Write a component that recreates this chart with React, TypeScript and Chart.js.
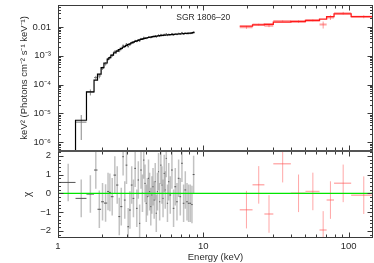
import React, { useEffect, useRef } from "react";
import { Chart, registerables } from "chart.js";

Chart.register(...registerables);

// ---------- axes ----------
const X_MIN = 1;
const X_MAX = 147;
const TOP_MIN = 5.1e-7;
const TOP_MAX = 0.0576;
const CHI_MIN = -2.38;
const CHI_MAX = 2.27;

const xTickValues = [1, 10, 100];
const xTickLabels = ["1", "10", "100"];
const topTickValues = [1e-6, 1e-5, 1e-4, 1e-3, 0.01];
const topTickLabels = ["10⁻⁶", "10⁻⁵", "10⁻⁴", "10⁻³", "0.01"];
const chiTickValues = [-2, -1, 0, 1, 2];
const chiTickLabels = ["−2", "−1", "0", "1", "2"];

const plotTitle = "SGR 1806–20";
const yTopTitle = "keV² (Photons cm⁻² s⁻¹ keV⁻¹)";
const yBotTitle = "χ";
const xTitle = "Energy (keV)";

// ---------- black spectrum (low energy) ----------
const blackEdges = [1.03, 1.32, 1.57, 1.77, 1.87, 1.98, 2.07, 2.18, 2.24, 2.31, 2.41, 2.51, 2.60, 2.68, 2.77, 2.84, 2.92, 3.00, 3.08, 3.17, 3.26, 3.35, 3.44, 3.53, 3.61, 3.68, 3.77, 3.85, 3.93, 4.01, 4.09, 4.16, 4.23, 4.31, 4.39, 4.46, 4.55, 4.63, 4.70, 4.79, 4.88, 4.96, 5.05, 5.15, 5.23, 5.33, 5.43, 5.51, 5.61, 5.72, 5.84, 6.00, 6.16, 6.32, 6.50, 6.67, 6.85, 7.03, 7.22, 7.41, 7.62, 7.82, 8.02, 8.25, 8.45, 8.70];
const blackModel = [1e-7, 5.8e-6, 5.6e-5, 1.43e-4, 2.3e-4, 3.9e-4, 5.6e-4, 7.6e-4, 8.6e-4, 1.05e-3, 1.25e-3, 1.45e-3, 1.62e-3, 1.8e-3, 1.98e-3, 2.12e-3, 2.3e-3, 2.45e-3, 2.6e-3, 2.78e-3, 2.95e-3, 3.12e-3, 3.28e-3, 3.42e-3, 3.55e-3, 3.68e-3, 3.8e-3, 3.92e-3, 4.03e-3, 4.13e-3, 4.22e-3, 4.3e-3, 4.38e-3, 4.46e-3, 4.53e-3, 4.6e-3, 4.67e-3, 4.73e-3, 4.79e-3, 4.85e-3, 4.91e-3, 4.96e-3, 5.01e-3, 5.06e-3, 5.11e-3, 5.16e-3, 5.2e-3, 5.24e-3, 5.28e-3, 5.33e-3, 5.39e-3, 5.45e-3, 5.51e-3, 5.57e-3, 5.63e-3, 5.69e-3, 5.75e-3, 5.81e-3, 5.87e-3, 5.93e-3, 6.0e-3, 6.07e-3, 6.14e-3, 6.22e-3, 6.32e-3];
const blackData = [1.5e-7, 5.0e-6, 5.5e-5, 1.75e-4, 2.0e-4, 3.69e-4, 5.25e-4, 7.69e-4, 8.65e-4, 1.03e-3, 1.40e-3, 1.50e-3, 1.46e-3, 1.70e-3, 2.29e-3, 2.06e-3, 2.58e-3, 2.10e-3, 2.42e-3, 2.88e-3, 2.89e-3, 3.37e-3, 3.12e-3, 3.57e-3, 3.21e-3, 3.95e-3, 3.80e-3, 4.34e-3, 4.16e-3, 4.00e-3, 4.17e-3, 4.51e-3, 4.40e-3, 4.27e-3, 4.51e-3, 4.70e-3, 4.57e-3, 4.91e-3, 4.48e-3, 4.87e-3, 5.25e-3, 4.83e-3, 5.46e-3, 5.19e-3, 5.03e-3, 5.49e-3, 5.26e-3, 5.83e-3, 5.11e-3, 5.53e-3, 5.36e-3, 5.85e-3, 5.25e-3, 5.69e-3, 5.48e-3, 5.96e-3, 5.69e-3, 6.37e-3, 5.68e-3, 6.00e-3, 5.84e-3, 5.88e-3, 5.94e-3, 6.00e-3, 6.70e-3];
const blackErr = [1e-7, 3.8e-6, 1.3e-5, 2.6e-5, 3.5e-5, 4.7e-5, 6.7e-5, 9.1e-5, 1.0e-4, 1.26e-4, 1.5e-4, 1.16e-4, 1.3e-4, 1.44e-4, 1.6e-4, 1.7e-4, 1.84e-4, 1.96e-4, 2.1e-4, 2.2e-4, 2.4e-4, 1.9e-4, 2.0e-4, 2.05e-4, 2.1e-4, 2.2e-4, 2.3e-4, 2.35e-4, 2.4e-4, 2.5e-4, 2.5e-4, 2.6e-4, 2.6e-4, 2.7e-4, 2.7e-4, 2.8e-4, 2.8e-4, 2.8e-4, 2.9e-4, 2.9e-4, 2.9e-4, 3.0e-4, 3.0e-4, 3.0e-4, 3.1e-4, 3.1e-4, 3.1e-4, 3.1e-4, 3.2e-4, 3.2e-4, 3.2e-4, 3.3e-4, 3.3e-4, 3.3e-4, 3.4e-4, 3.4e-4, 3.5e-4, 3.5e-4, 3.5e-4, 3.6e-4, 3.6e-4, 3.6e-4, 3.7e-4, 3.7e-4, 3.8e-4];
const blackChi = [0.58, -0.27, -0.04, 1.24, -0.85, -0.45, -0.52, 0.10, 0.05, -0.18, 0.97, 0.44, -1.24, -0.71, 1.95, -0.36, 1.50, -1.78, -0.89, 0.44, -0.27, 1.33, -0.80, 0.71, -1.60, 1.24, 0.00, 1.77, 0.53, -0.53, -0.18, 0.80, 0.09, -0.71, -0.09, 0.35, -0.36, 0.62, -1.06, 0.09, 1.15, -0.45, 1.50, 0.44, -0.27, 1.06, 0.18, 1.86, -0.53, 0.62, -0.09, 1.24, -0.80, 0.35, -0.45, 0.80, -0.18, 1.60, -0.53, 0.18, -0.45, -0.53, -0.53, -0.60, 1.00];

// ---------- red spectrum (high energy) ----------
const redEdges = [17.8, 21.8, 26.3, 30.3, 40.0, 50.4, 63.0, 70.5, 79.3, 104, 150];
const redModel = [0.0106, 0.0117, 0.0124, 0.0146, 0.0154, 0.0167, 0.0185, 0.0229, 0.0282, 0.0229];
const redData = [0.0097, 0.0121, 0.0110, 0.0160, 0.0154, 0.0169, 0.0121, 0.0214, 0.0300, 0.0226];
const redErr = [0.0011, 0.0009, 0.0012, 0.0009, 0.0015, 0.0013, 0.0033, 0.0040, 0.0032, 0.0027];
const redChi = [-0.87, 0.45, -1.10, 1.58, 0.00, 0.10, -1.95, -0.36, 0.53, -0.10];

const CHI_ERR = 1; // delchi error bars are +-1 sigma

const FONT = "'Liberation Sans', Arial, sans-serif";
const TEXT = "#2a2a2a";

function stepPoints(edges: number[], vals: number[]) {
  const pts = vals.map((v, i) => ({ x: edges[i], y: v }));
  pts.push({ x: edges[edges.length - 1], y: vals[vals.length - 1] });
  return pts;
}

function drawCrosses(
  ctx: CanvasRenderingContext2D, xs: any, ys: any, edges: number[], vals: number[],
  errs: number[] | number, hColor: string, vColor: string, hW: number, vW: number
) {
  ctx.save();
  ctx.beginPath();
  ctx.rect(xs.left, ys.top, xs.right - xs.left, ys.bottom - ys.top);
  ctx.clip();
  const isLog = ys.type === "logarithmic";
  for (let i = 0; i < vals.length; i++) {
    const lo = edges[i];
    const hi = edges[i + 1];
    const e = typeof errs === "number" ? errs : errs[i];
    const xl = xs.getPixelForValue(lo);
    const xr = xs.getPixelForValue(hi);
    const xc = xs.getPixelForValue((lo + hi) / 2);
    const yc = ys.getPixelForValue(vals[i]);
    const vlo = vals[i] - e;
    const yl = isLog && vlo <= 0 ? ys.bottom + 20 : ys.getPixelForValue(vlo);
    const yh = ys.getPixelForValue(vals[i] + e);
    ctx.strokeStyle = vColor;
    ctx.lineWidth = vW;
    ctx.beginPath();
    ctx.moveTo(xc, yl);
    ctx.lineTo(xc, yh);
    ctx.stroke();
    ctx.strokeStyle = hColor;
    ctx.lineWidth = hW;
    ctx.beginPath();
    ctx.moveTo(xl, yc);
    ctx.lineTo(xr, yc);
    ctx.stroke();
  }
  ctx.restore();
}

const decoPlugin = {
  id: "deco",
  beforeDatasetsDraw(chart: any) {
    const { ctx, scales } = chart;
    const xs = scales.x, yT = scales.yTop, yB = scales.yBot;
    drawCrosses(ctx, xs, yT, blackEdges, blackData, blackErr, "#777", "#888", 1, 1);
    drawCrosses(ctx, xs, yT, redEdges, redData, redErr, "rgba(255,70,70,0.5)", "rgba(255,70,70,0.55)", 2, 1);
    drawCrosses(ctx, xs, yB, blackEdges, blackChi, CHI_ERR, "#555", "rgba(120,120,120,0.45)", 1, 1.5);
    drawCrosses(ctx, xs, yB, redEdges, redChi, CHI_ERR, "rgba(255,80,80,0.45)", "rgba(255,80,80,0.5)", 1.5, 1);
  },
  afterDatasetsDraw(chart: any) {
    const { ctx, scales } = chart;
    const xs = scales.x, yT = scales.yTop, yB = scales.yBot;
    const L = Math.round(xs.left) + 0.5;
    const R = Math.round(xs.right) - 0.5;
    ctx.save();
    ctx.strokeStyle = "#3a3a3a";
    ctx.lineWidth = 1;
    const line = (x1: number, y1: number, x2: number, y2: number) => {
      ctx.beginPath();
      ctx.moveTo(x1, y1);
      ctx.lineTo(x2, y2);
      ctx.stroke();
    };
    for (const p of [yT, yB]) {
      const T = Math.round(p.top) + 0.5;
      const B = Math.round(p.bottom) - 0.5;
      ctx.strokeRect(L, T, R - L, B - T);
      for (const d of [1, 10, 100]) {
        for (let k = 1; k <= 9; k++) {
          const v = k * d;
          if (v < X_MIN || v > X_MAX) continue;
          const px = Math.round(xs.getPixelForValue(v)) + 0.5;
          const len = k === 1 ? 5 : 3;
          line(px, T, px, T + len);
          line(px, B, px, B - len);
        }
      }
      if (p === yT) {
        for (let e = -7; e <= -1; e++) {
          for (let k = 1; k <= 9; k++) {
            const v = k * Math.pow(10, e);
            if (v < TOP_MIN || v > TOP_MAX) continue;
            const py = Math.round(yT.getPixelForValue(v)) + 0.5;
            const len = k === 1 ? 5 : 2.5;
            line(L, py, L + len, py);
            line(R, py, R - len, py);
          }
        }
      } else {
        for (let j = -12; j <= 12; j++) {
          const v = j * 0.2;
          if (v < CHI_MIN || v > CHI_MAX) continue;
          const py = Math.round(yB.getPixelForValue(v)) + 0.5;
          const len = j % 5 === 0 ? 5 : 2.5;
          line(L, py, L + len, py);
          line(R, py, R - len, py);
        }
      }
    }
    ctx.lineWidth = 2;
    ctx.strokeStyle = "#555";
    line(xs.left, Math.round(yT.bottom), xs.right, Math.round(yT.bottom));
    ctx.fillStyle = TEXT;
    ctx.font = `8.5px ${FONT}`;
    ctx.textAlign = "center";
    ctx.textBaseline = "middle";
    ctx.fillText(plotTitle, xs.left + 0.461 * (xs.right - xs.left), yT.top + 12.5);
    ctx.restore();
  },
};

function tickCallback(values: number[], labels: string[]) {
  return (v: any) => {
    const i = values.findIndex((t) => Math.abs(t - v) <= Math.abs(t) * 1e-6);
    return i >= 0 ? labels[i] : "";
  };
}

function yFit(s: any) {
  s.width = 58;
  s.paddingTop = 0;
  s.paddingBottom = 0;
}

export default function App() {
  const ref = useRef<HTMLCanvasElement>(null);
  useEffect(() => {
    const tickFont = { family: FONT, size: 9.5 };
    const chart = new Chart(ref.current as HTMLCanvasElement, {
      type: "line",
      data: {
        datasets: [
          {
            data: stepPoints(blackEdges, blackModel) as any,
            yAxisID: "yTop",
            borderColor: "#000",
            borderWidth: 1.2,
            stepped: "before",
            pointRadius: 0,
            fill: false,
          },
          {
            data: stepPoints(redEdges, redModel) as any,
            yAxisID: "yTop",
            borderColor: "#ff1a1a",
            borderWidth: 1.3,
            stepped: "before",
            pointRadius: 0,
            fill: false,
          },
          {
            data: [
              { x: X_MIN, y: 0 },
              { x: X_MAX, y: 0 },
            ] as any,
            yAxisID: "yBot",
            borderColor: "#00e600",
            borderWidth: 1.2,
            pointRadius: 0,
            fill: false,
          },
        ],
      },
      options: {
        animation: false,
        responsive: false,
        devicePixelRatio: 1,
        parsing: false as any,
        normalized: true,
        layout: { padding: { left: 0, right: 1, top: 5, bottom: 0 } },
        plugins: { legend: { display: false }, tooltip: { enabled: false }, title: { display: false } },
        scales: {
          x: {
            type: "logarithmic",
            position: "bottom",
            min: X_MIN,
            max: X_MAX,
            grid: { display: false, drawTicks: false },
            border: { display: false },
            afterBuildTicks: (s: any) => {
              s.ticks = xTickValues.map((v) => ({ value: v }));
            },
            afterFit: (s: any) => {
              s.height = 25;
              s.paddingLeft = 0;
              s.paddingRight = 0;
            },
            ticks: {
              autoSkip: false,
              maxRotation: 0,
              padding: 2.5,
              color: TEXT,
              font: tickFont,
              callback: tickCallback(xTickValues, xTickLabels),
            },
            title: {
              display: true,
              text: xTitle,
              color: TEXT,
              font: { family: FONT, size: 9.5, lineHeight: 1 },
              padding: { top: 0, bottom: 0.8 },
            },
          },
          yTop: {
            type: "logarithmic",
            position: "left",
            stack: "panels",
            stackWeight: 145.7,
            weight: 2,
            min: TOP_MIN,
            max: TOP_MAX,
            grid: { display: false, drawTicks: false },
            border: { display: false },
            afterBuildTicks: (s: any) => {
              s.ticks = topTickValues.map((v) => ({ value: v }));
            },
            afterFit: yFit,
            ticks: {
              autoSkip: false,
              padding: 7,
              color: TEXT,
              font: tickFont,
              callback: tickCallback(topTickValues, topTickLabels),
            },
            title: {
              display: true,
              text: yTopTitle,
              color: TEXT,
              font: { family: FONT, size: 9.5, lineHeight: 1 },
              padding: { top: 20, bottom: 0 },
            },
          },
          yBot: {
            type: "linear",
            position: "left",
            stack: "panels",
            stackWeight: 87.3,
            weight: 1,
            min: CHI_MIN,
            max: CHI_MAX,
            grid: { display: false, drawTicks: false },
            border: { display: false },
            afterBuildTicks: (s: any) => {
              s.ticks = chiTickValues.map((v) => ({ value: v }));
            },
            afterFit: yFit,
            ticks: {
              autoSkip: false,
              padding: 7,
              color: TEXT,
              font: tickFont,
              callback: tickCallback(chiTickValues, chiTickLabels),
            },
            title: {
              display: true,
              text: yBotTitle,
              color: TEXT,
              font: { family: FONT, size: 10, lineHeight: 1 },
              padding: { top: 23, bottom: 0 },
            },
          },
        },
      } as any,
      plugins: [decoPlugin],
    });
    return () => chart.destroy();
  }, []);

  return (
    <div style={{ position: "absolute", left: 0, top: 0, width: 374, height: 263, background: "#fff" }}>
      <canvas ref={ref} width={374} height={263} style={{ display: "block", width: 374, height: 263 }} />
    </div>
  );
}
